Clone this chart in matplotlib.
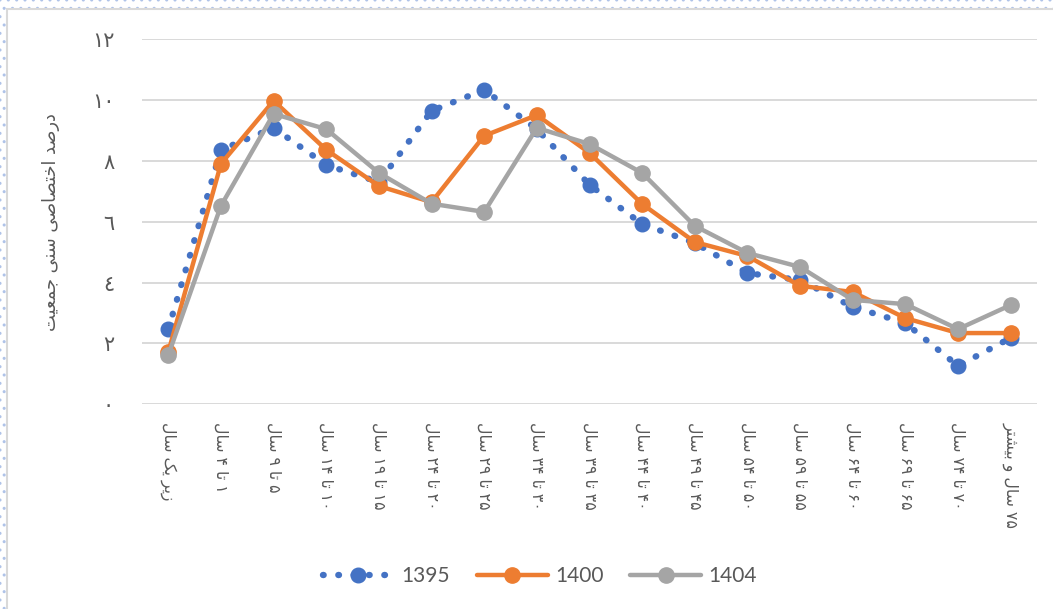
import matplotlib.pyplot as plt
from matplotlib.patches import Rectangle

# age groups (logical Persian text)
categories = ["زیر یک سال", "۱ تا ۴ سال", "۵ تا ۹ سال", "۱۰ تا ۱۴ سال", "۱۵ تا ۱۹ سال",
              "۲۰ تا ۲۴ سال", "۲۵ تا ۲۹ سال", "۳۰ تا ۳۴ سال", "۳۵ تا ۳۹ سال", "۴۰ تا ۴۴ سال",
              "۴۵ تا ۴۹ سال", "۵۰ تا ۵۴ سال", "۵۵ تا ۵۹ سال", "۶۰ تا ۶۴ سال", "۶۵ تا ۶۹ سال",
              "۷۰ تا ۷۴ سال", "۷۵ سال و بیشتر"]

s1395 = [2.47, 8.36, 9.08, 7.86, 7.3, 9.64, 10.33, 9.04, 7.21, 5.92, 5.3, 4.31, 4.08, 3.2, 2.67, 1.26, 2.18]
s1400 = [1.72, 7.9, 9.97, 8.36, 7.17, 6.64, 8.82, 9.5, 8.26, 6.58, 5.33, 4.87, 3.89, 3.69, 2.83, 2.34, 2.34]
s1404 = [1.62, 6.52, 9.54, 9.04, 7.6, 6.59, 6.32, 9.08, 8.55, 7.6, 5.86, 4.97, 4.51, 3.43, 3.29, 2.47, 3.26]

yticks = [0, 2, 4, 6, 8, 10, 12]
ytick_labels = ["٠", "٢", "٤", "٦", "٨", "١٠", "١٢"]
ylabel = "درصد اختصاصی سنی جمعیت"

# matplotlib has no arabic shaping, so pick presentation forms by hand
# (isolated, final, initial, medial)
FORMS = {
    "ا": ("\uFE8D", "\uFE8E", None, None),
    "ب": ("\uFE8F", "\uFE90", "\uFE91", "\uFE92"),
    "ت": ("\uFE95", "\uFE96", "\uFE97", "\uFE98"),
    "ج": ("\uFE9D", "\uFE9E", "\uFE9F", "\uFEA0"),
    "خ": ("\uFEA5", "\uFEA6", "\uFEA7", "\uFEA8"),
    "د": ("\uFEA9", "\uFEAA", None, None),
    "ر": ("\uFEAD", "\uFEAE", None, None),
    "ز": ("\uFEAF", "\uFEB0", None, None),
    "س": ("\uFEB1", "\uFEB2", "\uFEB3", "\uFEB4"),
    "ش": ("\uFEB5", "\uFEB6", "\uFEB7", "\uFEB8"),
    "ص": ("\uFEB9", "\uFEBA", "\uFEBB", "\uFEBC"),
    "ع": ("\uFEC9", "\uFECA", "\uFECB", "\uFECC"),
    "ل": ("\uFEDD", "\uFEDE", "\uFEDF", "\uFEE0"),
    "م": ("\uFEE1", "\uFEE2", "\uFEE3", "\uFEE4"),
    "ن": ("\uFEE5", "\uFEE6", "\uFEE7", "\uFEE8"),
    "و": ("\uFEED", "\uFEEE", None, None),
    "ک": ("\uFB8E", "\uFB8F", "\uFB90", "\uFB91"),
    "ی": ("\uFBFC", "\uFBFD", "\uFBFE", "\uFBFF"),
}
RIGHT_ONLY = set("ادذرزژو")


def shape_word(w):
    out = []
    for i, ch in enumerate(w):
        if ch not in FORMS:
            out.append(ch)
            continue
        prev = w[i - 1] if i > 0 else None
        nxt = w[i + 1] if i + 1 < len(w) else None
        jp = prev in FORMS and prev not in RIGHT_ONLY
        jn = ch not in RIGHT_ONLY and nxt in FORMS
        iso, fin, ini, med = FORMS[ch]
        if jp and jn:
            out.append(med)
        elif jp:
            out.append(fin)
        elif jn:
            out.append(ini)
        else:
            out.append(iso)
    return "".join(out)


def rtl(text):
    vis = []
    for w in reversed(text.split(" ")):
        if w and w[0] in FORMS:
            vis.append(shape_word(w)[::-1])
        else:
            vis.append(w)
    return " ".join(vis)


grey_txt = "#595959"
fig = plt.figure(figsize=(10.53, 6.09), dpi=100)

# dotted outer frame + white panel
fig.patches.append(Rectangle((0, 0), 1, 1, transform=fig.transFigure, facecolor="white",
                             edgecolor="#AFC3E8", hatch="..", linewidth=0, zorder=-10))
fig.patches.append(Rectangle((7 / 1053, -0.01), 1, 1 - 9 / 609 + 0.01, transform=fig.transFigure,
                             facecolor="white", edgecolor="#D9D9D9", linewidth=1.5, zorder=-9))

ax = fig.add_axes([142 / 1053, 1 - 404.3 / 609, 895 / 1053, (404.3 - 39) / 609])
ax.set_facecolor("none")
x = list(range(len(categories)))

ax.plot(x, s1395, color="#4472C4", lw=4.6, ls=(0, (0.1, 2.3)), dash_capstyle="round",
        marker="o", ms=10.5, label="1395")
ax.plot(x, s1400, color="#ED7D31", lw=3.2, marker="o", ms=11, solid_capstyle="round", label="1400")
ax.plot(x, s1404, color="#A5A5A5", lw=3.2, marker="o", ms=11, solid_capstyle="round", label="1404")

ax.set_xlim(-0.5, len(categories) - 0.5)
ax.set_ylim(0, 12)
ax.set_yticks(yticks)
ax.set_yticklabels(ytick_labels, family="DejaVu Sans", fontsize=15, color=grey_txt)
ax.set_xticks(x)
ax.set_xticklabels([rtl(c) for c in categories], rotation=-90, ha="center", va="top",
                   family="DejaVu Sans", fontsize=11.3, color=grey_txt)
ax.tick_params(axis="y", length=0, pad=20)
ax.tick_params(axis="x", length=0, pad=13)
ax.yaxis.grid(True, color="#D9D9D9", lw=1.4)
ax.set_axisbelow(True)
for sp in ax.spines.values():
    sp.set_visible(False)

ax.set_ylabel(rtl(ylabel), family="DejaVu Sans", fontsize=12.8, color=grey_txt)
ax.yaxis.set_label_coords(-0.092, 0.5)

fig.legend(loc="center", bbox_to_anchor=(540 / 1053, 1 - 576 / 609), ncol=3, frameon=False,
           prop={"family": "Lato", "size": 15}, labelcolor=grey_txt, handlelength=3.4,
           handletextpad=0.35, columnspacing=1.3)

fig.savefig("out.png", dpi=100)
